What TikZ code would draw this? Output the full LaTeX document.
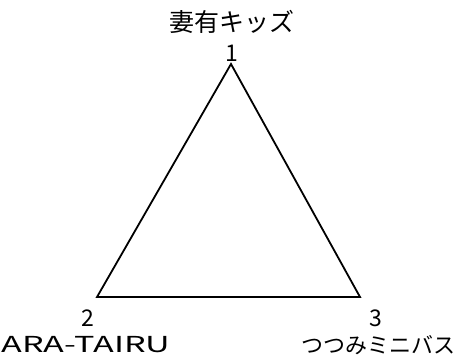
\documentclass[tikz,border=0pt]{standalone}
\usepackage{fontspec}
\setmainfont{Noto Sans CJK JP}
\usepackage{graphicx}
\usetikzlibrary{positioning}

\begin{document}
\begin{tikzpicture}[x=1pt, y=-1pt]
    \tikzstyle{vnum} = [inner sep=0pt, font=\fontsize{23}{23}\selectfont]
    \tikzstyle{team} = [inner sep=0pt, font=\fontsize{22}{22}\selectfont]
    \tikzstyle{edge} = [line width=1.8pt, line join=miter]

    \useasboundingbox (0,0) rectangle (461,364);

    \coordinate (v1) at (231,64);
    \coordinate (v2) at (97,297);
    \coordinate (v3) at (360,297);

    \draw[edge] (v1) -- (v2) -- (v3) -- cycle;

    \node[vnum] (n1) at (232,53) {1};
    \node[vnum] (n2) at (88,318) {2};
    \node[vnum] (n3) at (376,318) {3};

    \node[team, font=\fontsize{25}{25}\selectfont] (t1) at (232,22) {妻有キッズ};
    \node[team] (t2) at (86,345) {\scalebox{1.55}[1]{ARA-TAIRU}};
    \node[team] (t3) at (378,345) {つつみミニバス};
\end{tikzpicture}
\end{document}
